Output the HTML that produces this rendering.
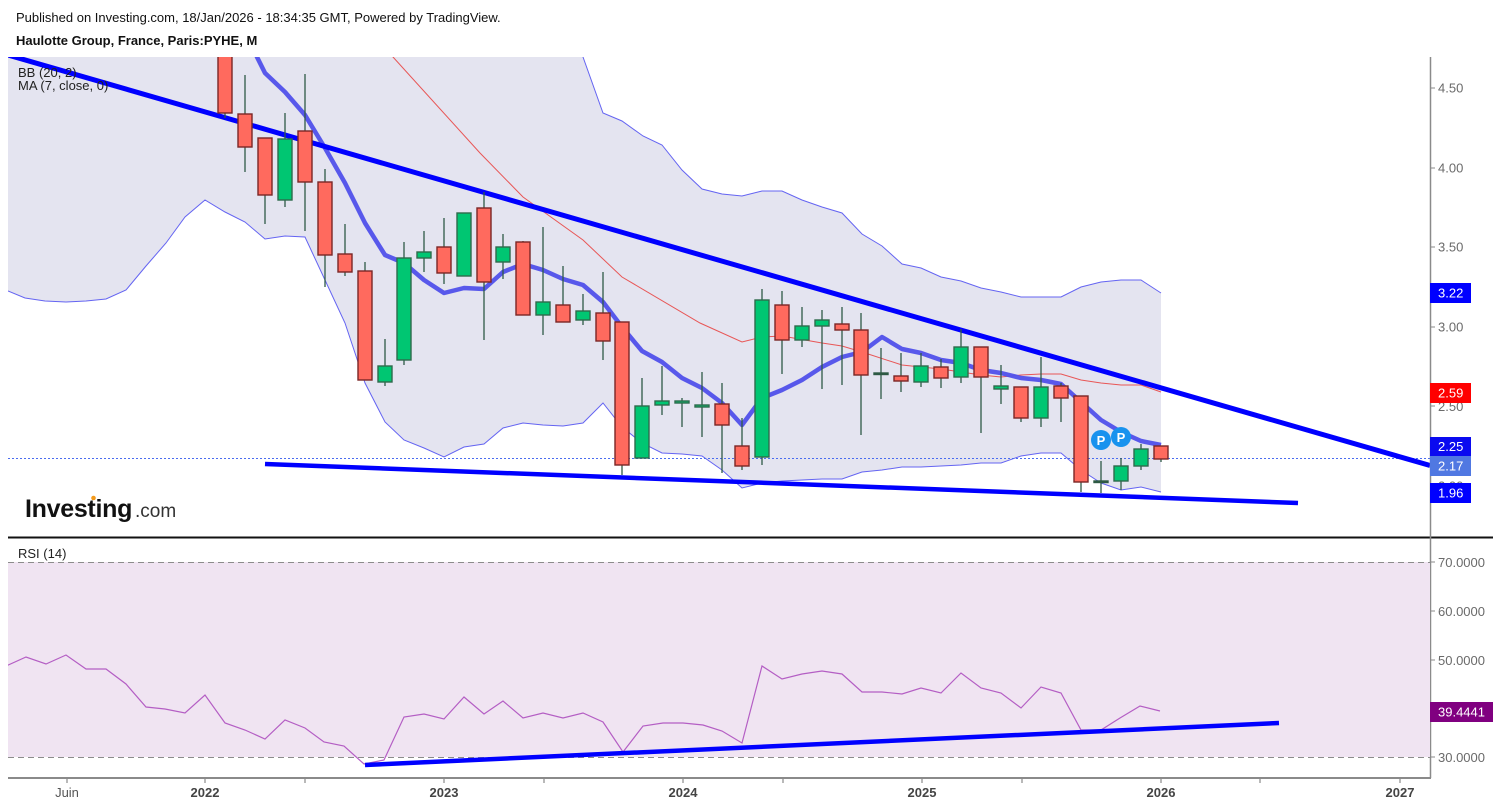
<!DOCTYPE html>
<html><head><meta charset="utf-8">
<style>
html,body{margin:0;padding:0;background:#fff;}
svg{display:block;font-family:"Liberation Sans",Arial,sans-serif;}
.w{stroke:#2f5a46;stroke-width:1.3}
.r{fill:#ff6a5e;stroke:#7a2626;stroke-width:1.4}
.g{fill:#00c672;stroke:#2e6a4c;stroke-width:1.4}
.d{fill:#2e5a44;stroke:#2e5a44;stroke-width:1.4}
.pl{font-size:13px;fill:#6a6a6a}
.bl{font-size:13px;fill:#fff}
</style></head>
<body>
<svg width="1500" height="807" viewBox="0 0 1500 807" xmlns="http://www.w3.org/2000/svg">
<defs>
<clipPath id="cm"><rect x="8" y="57" width="1422" height="480"/></clipPath>
<clipPath id="cr"><rect x="8" y="540" width="1422" height="237"/></clipPath>
</defs>

<!-- header -->
<text x="16" y="22" font-size="13" fill="#111">Published on Investing.com, 18/Jan/2026 - 18:34:35 GMT, Powered by TradingView.</text>
<text x="16" y="45" font-size="13" font-weight="bold" fill="#111">Haulotte Group, France, Paris:PYHE, M</text>

<g clip-path="url(#cm)">
<!-- BB fill -->
<polygon fill="#e4e4f0" points="8,-100 543,-100 543,-60 563,0 583,57 603,113 622,121 643,136 662,145 682,170 702,189 722,194 742,196 762,191 782,191 802,200 822,207 842,213 862,234 882,246 902,264 921,268 941,277 961,281 981,288 1001,292 1021,297 1041,297 1061,297 1081,287 1101,282 1121,280 1141,280 1161,293 1161,492 1141,487 1121,490 1101,483 1081,470 1061,453 1041,453 1021,456 1001,463 981,463 961,465 941,466 921,467 902,467 882,470 862,472 842,479 822,479 802,480 782,481 762,483 742,488 722,470 702,456 682,454 662,453 642,443 622,427 603,403 583,423 563,426 543,425 523,423 503,428 484,444 464,447 444,457 424,448 404,440 385,422 365,383 345,323 325,280 305,237 285,236 265,239 245,222 225,212 205,200 185,217 166,243 146,266 126,290 106,299 86,301 66,302 45,301 25,298 8,291"/>
<!-- BB lines -->
<polyline fill="none" stroke="#6464f2" stroke-width="1" points="543,-60 563,0 583,57 603,113 622,121 643,136 662,145 682,170 702,189 722,194 742,196 762,191 782,191 802,200 822,207 842,213 862,234 882,246 902,264 921,268 941,277 961,281 981,288 1001,292 1021,297 1041,297 1061,297 1081,287 1101,282 1121,280 1141,280 1161,293"/>
<polyline fill="none" stroke="#6464f2" stroke-width="1" points="8,291 25,298 45,301 66,302 86,301 106,299 126,290 146,266 166,243 185,217 205,200 225,212 245,222 265,239 285,236 305,237 325,280 345,323 365,383 385,422 404,440 424,448 444,457 464,447 484,444 503,428 523,423 543,425 563,426 583,423 603,403 622,427 642,443 662,453 682,454 702,456 722,470 742,488 762,483 782,481 802,480 822,479 842,479 862,472 882,470 902,467 921,467 941,466 961,465 981,463 1001,463 1021,456 1041,453 1061,453 1081,470 1101,483 1121,490 1141,487 1161,492"/>
<!-- dotted current price -->
<line x1="8" y1="458.5" x2="1430" y2="458.5" stroke="#4a6cf0" stroke-width="1" stroke-dasharray="2,2"/>
<!-- red middle -->
<polyline fill="none" stroke="#e85656" stroke-width="1" points="366,27 393,57 480,153 523,197 583,240 622,277 700,323 742,342 762,337 782,336 822,343 842,346 862,352 902,365 921,367 941,369 961,372 981,375 1001,377 1021,375 1041,374 1061,374 1081,380 1101,383 1121,385 1141,385 1161,392"/>
<!-- MA7 -->
<polyline fill="none" stroke="#5050ea" stroke-width="4.5" stroke-linejoin="round" opacity="0.95" points="245,30 257,57 265,73 285,92 305,115 325,148 345,183 365,223 385,255 404,263 424,280 444,293 464,288 484,289 503,272 523,264 543,270 563,279 583,285 603,302 622,327 642,351 662,362 682,378 702,388 722,403 742,425 762,398 782,390 802,380 822,367 842,357 862,352 882,337 902,349 921,353 941,360 961,363 981,370 1001,373 1021,378 1041,380 1061,384 1081,402 1101,420 1121,432 1141,441 1161,445"/>
<!-- trendlines -->
<line x1="8" y1="55" x2="1430" y2="465.5" stroke="#0000ff" stroke-width="5"/>
<line x1="265" y1="464" x2="1298" y2="503" stroke="#0000ff" stroke-width="4.5"/>

<!-- candles -->
<line class="w" x1="225" y1="50" x2="225" y2="118"/><rect class="r" x="218" y="50" width="14" height="63"/>
<line class="w" x1="245" y1="75" x2="245" y2="172"/><rect class="r" x="238" y="114" width="14" height="33"/>
<line class="w" x1="265" y1="138" x2="265" y2="224"/><rect class="r" x="258" y="138" width="14" height="57"/>
<line class="w" x1="285" y1="113" x2="285" y2="207"/><rect class="g" x="278" y="139" width="14" height="61"/>
<line class="w" x1="305" y1="74" x2="305" y2="231"/><rect class="r" x="298" y="131" width="14" height="51"/>
<line class="w" x1="325" y1="169" x2="325" y2="287"/><rect class="r" x="318" y="182" width="14" height="73"/>
<line class="w" x1="345" y1="224" x2="345" y2="276"/><rect class="r" x="338" y="254" width="14" height="18"/>
<line class="w" x1="365" y1="262" x2="365" y2="380"/><rect class="r" x="358" y="271" width="14" height="109"/>
<line class="w" x1="385" y1="339" x2="385" y2="386"/><rect class="g" x="378" y="366" width="14" height="16"/>
<line class="w" x1="404" y1="242" x2="404" y2="365"/><rect class="g" x="397" y="258" width="14" height="102"/>
<line class="w" x1="424" y1="231" x2="424" y2="272"/><rect class="g" x="417" y="252" width="14" height="6"/>
<line class="w" x1="444" y1="218" x2="444" y2="284"/><rect class="r" x="437" y="247" width="14" height="26"/>
<line class="w" x1="464" y1="213" x2="464" y2="276"/><rect class="g" x="457" y="213" width="14" height="63"/>
<line class="w" x1="484" y1="192" x2="484" y2="340"/><rect class="r" x="477" y="208" width="14" height="74"/>
<line class="w" x1="503" y1="234" x2="503" y2="279"/><rect class="g" x="496" y="247" width="14" height="15"/>
<line class="w" x1="523" y1="241" x2="523" y2="315"/><rect class="r" x="516" y="242" width="14" height="73"/>
<line class="w" x1="543" y1="227" x2="543" y2="335"/><rect class="g" x="536" y="302" width="14" height="13"/>
<line class="w" x1="563" y1="266" x2="563" y2="322"/><rect class="r" x="556" y="305" width="14" height="17"/>
<line class="w" x1="583" y1="294" x2="583" y2="325"/><rect class="g" x="576" y="311" width="14" height="9"/>
<line class="w" x1="603" y1="272" x2="603" y2="360"/><rect class="r" x="596" y="313" width="14" height="28"/>
<line class="w" x1="622" y1="322" x2="622" y2="475"/><rect class="r" x="615" y="322" width="14" height="143"/>
<line class="w" x1="642" y1="378" x2="642" y2="458"/><rect class="g" x="635" y="406" width="14" height="52"/>
<line class="w" x1="662" y1="366" x2="662" y2="415"/><rect class="g" x="655" y="401" width="14" height="4"/>
<line class="w" x1="682" y1="398" x2="682" y2="427"/><rect class="g" x="675" y="401" width="14" height="2"/>
<line class="w" x1="702" y1="372" x2="702" y2="437"/><rect class="g" x="695" y="405" width="14" height="2"/>
<line class="w" x1="722" y1="383" x2="722" y2="473"/><rect class="r" x="715" y="404" width="14" height="21"/>
<line class="w" x1="742" y1="418" x2="742" y2="470"/><rect class="r" x="735" y="446" width="14" height="20"/>
<line class="w" x1="762" y1="289" x2="762" y2="465"/><rect class="g" x="755" y="300" width="14" height="157"/>
<line class="w" x1="782" y1="291" x2="782" y2="374"/><rect class="r" x="775" y="305" width="14" height="35"/>
<line class="w" x1="802" y1="307" x2="802" y2="347"/><rect class="g" x="795" y="326" width="14" height="14"/>
<line class="w" x1="822" y1="310" x2="822" y2="389"/><rect class="g" x="815" y="320" width="14" height="6"/>
<line class="w" x1="842" y1="307" x2="842" y2="385"/><rect class="r" x="835" y="324" width="14" height="6"/>
<line class="w" x1="861" y1="313" x2="861" y2="435"/><rect class="r" x="854" y="330" width="14" height="45"/>
<line class="w" x1="881" y1="348" x2="881" y2="399"/><rect class="d" x="874" y="373" width="14" height="1.5"/>
<line class="w" x1="901" y1="353" x2="901" y2="392"/><rect class="r" x="894" y="376" width="14" height="5"/>
<line class="w" x1="921" y1="353" x2="921" y2="387"/><rect class="g" x="914" y="366" width="14" height="16"/>
<line class="w" x1="941" y1="359" x2="941" y2="388"/><rect class="r" x="934" y="367" width="14" height="11"/>
<line class="w" x1="961" y1="329" x2="961" y2="383"/><rect class="g" x="954" y="347" width="14" height="30"/>
<line class="w" x1="981" y1="347" x2="981" y2="433"/><rect class="r" x="974" y="347" width="14" height="30"/>
<line class="w" x1="1001" y1="365" x2="1001" y2="404"/><rect class="g" x="994" y="386" width="14" height="3"/>
<line class="w" x1="1021" y1="387" x2="1021" y2="422"/><rect class="r" x="1014" y="387" width="14" height="31"/>
<line class="w" x1="1041" y1="357" x2="1041" y2="427"/><rect class="g" x="1034" y="387" width="14" height="31"/>
<line class="w" x1="1061" y1="383" x2="1061" y2="422"/><rect class="r" x="1054" y="386" width="14" height="12"/>
<line class="w" x1="1081" y1="396" x2="1081" y2="492"/><rect class="r" x="1074" y="396" width="14" height="86"/>
<line class="w" x1="1101" y1="461" x2="1101" y2="493"/><rect class="d" x="1094" y="481" width="14" height="1.5"/>
<line class="w" x1="1121" y1="458" x2="1121" y2="490"/><rect class="g" x="1114" y="466" width="14" height="15"/>
<line class="w" x1="1141" y1="444" x2="1141" y2="470"/><rect class="g" x="1134" y="449" width="14" height="17"/>
<line class="w" x1="1161" y1="446" x2="1161" y2="462"/><rect class="r" x="1154" y="446" width="14" height="13"/>

<!-- P markers -->
<circle cx="1101" cy="440" r="10" fill="#1892ee"/>
<text x="1101" y="445" font-size="13" font-weight="bold" fill="#fff" text-anchor="middle">P</text>
<circle cx="1121" cy="437" r="10" fill="#1892ee"/>
<text x="1121" y="442" font-size="13" font-weight="bold" fill="#fff" text-anchor="middle">P</text>
</g>

<!-- legend -->
<text x="18" y="77" font-size="13" fill="#222">BB (20, 2)</text>
<text x="18" y="90" font-size="13" fill="#222">MA (7, close, 0)</text>

<!-- Investing logo -->
<text x="25" y="517" font-size="25" font-weight="bold" fill="#111" letter-spacing="-0.3">Investing</text>
<circle cx="93.5" cy="498" r="2.3" fill="#f39a1c"/>
<text x="135" y="517" font-size="19" fill="#333">.com</text>

<!-- separator -->
<line x1="8" y1="537.5" x2="1493" y2="537.5" stroke="#111" stroke-width="2"/>

<!-- price axis -->
<line x1="1430.5" y1="57" x2="1430.5" y2="778" stroke="#8a8a8a" stroke-width="1.5"/>
<g stroke="#8a8a8a" stroke-width="1">
<line x1="1430" y1="88" x2="1435" y2="88"/>
<line x1="1430" y1="168" x2="1435" y2="168"/>
<line x1="1430" y1="247" x2="1435" y2="247"/>
<line x1="1430" y1="327" x2="1435" y2="327"/>
<line x1="1430" y1="406" x2="1435" y2="406"/>
<line x1="1430" y1="486" x2="1435" y2="486"/>
</g>
<text class="pl" x="1438" y="92.5">4.50</text>
<text class="pl" x="1438" y="172.5">4.00</text>
<text class="pl" x="1438" y="251.5">3.50</text>
<text class="pl" x="1438" y="331.5">3.00</text>
<text class="pl" x="1438" y="411">2.50</text>
<text class="pl" x="1438" y="490.5">2.00</text>

<rect x="1430" y="283" width="41" height="20" fill="#0000ff"/>
<text class="bl" x="1438" y="297.5">3.22</text>
<rect x="1430" y="383" width="41" height="20" fill="#ff0000"/>
<text class="bl" x="1438" y="397.5">2.59</text>
<rect x="1430" y="437" width="41" height="19" fill="#0a0af0"/>
<text class="bl" x="1438" y="451">2.25</text>
<rect x="1430" y="456" width="41" height="20" fill="#5078e2"/>
<text class="bl" x="1438" y="470.5">2.17</text>
<rect x="1430" y="483" width="41" height="20" fill="#0000ff"/>
<text class="bl" x="1438" y="497.5">1.96</text>

<!-- RSI panel -->
<text x="18" y="558" font-size="13" fill="#222">RSI (14)</text>
<rect x="8" y="562" width="1422" height="195" fill="#f0e4f2"/>
<line x1="8" y1="562.5" x2="1430" y2="562.5" stroke="#8c8c8c" stroke-width="1" stroke-dasharray="6,4"/>
<line x1="8" y1="757.5" x2="1430" y2="757.5" stroke="#8c8c8c" stroke-width="1" stroke-dasharray="6,4"/>
<g clip-path="url(#cr)">
<polyline fill="none" stroke="#b45ec4" stroke-width="1.2" points="6,666 26,657 46,664 66,655 86,669 106,669 126,684 146,707 165,709 185,713 205,695 225,723 245,730 265,739 285,720 305,728 324,742 344,746 364,764 384,760 404,717 424,714 444,719 464,697 484,714 503,701 523,718 543,713 563,718 583,713 603,722 623,752 643,726 663,723 683,723 703,725 722,731 742,743 762,666 782,679 802,674 822,671 842,674 862,692 882,692 902,694 921,688 941,693 961,673 981,688 1001,693 1021,708 1041,687 1061,693 1081,730 1101,730 1120,718 1140,706 1160,711"/>
<line x1="365" y1="765" x2="1279" y2="723" stroke="#0000ff" stroke-width="4.5"/>
</g>
<g stroke="#8a8a8a" stroke-width="1">
<line x1="1430" y1="562" x2="1435" y2="562"/>
<line x1="1430" y1="611" x2="1435" y2="611"/>
<line x1="1430" y1="660" x2="1435" y2="660"/>
<line x1="1430" y1="709" x2="1435" y2="709"/>
<line x1="1430" y1="757" x2="1435" y2="757"/>
</g>
<text class="pl" x="1438" y="567">70.0000</text>
<text class="pl" x="1438" y="616">60.0000</text>
<text class="pl" x="1438" y="665">50.0000</text>
<text class="pl" x="1438" y="762">30.0000</text>
<rect x="1430" y="702" width="63" height="20" fill="#800080"/>
<text class="bl" x="1438" y="716.5">39.4441</text>

<!-- time axis -->
<line x1="8" y1="778" x2="1431" y2="778" stroke="#8a8a8a" stroke-width="2"/>
<g stroke="#8a8a8a" stroke-width="1.2">
<line x1="67" y1="778" x2="67" y2="783"/>
<line x1="205" y1="778" x2="205" y2="783"/>
<line x1="305" y1="778" x2="305" y2="783"/>
<line x1="444" y1="778" x2="444" y2="783"/>
<line x1="544" y1="778" x2="544" y2="783"/>
<line x1="683" y1="778" x2="683" y2="783"/>
<line x1="783" y1="778" x2="783" y2="783"/>
<line x1="922" y1="778" x2="922" y2="783"/>
<line x1="1022" y1="778" x2="1022" y2="783"/>
<line x1="1161" y1="778" x2="1161" y2="783"/>
<line x1="1260" y1="778" x2="1260" y2="783"/>
<line x1="1400" y1="778" x2="1400" y2="783"/>
</g>
<g font-size="13" text-anchor="middle">
<text x="67" y="797" fill="#555">Juin</text>
<text x="205" y="797" fill="#444" font-weight="bold">2022</text>
<text x="444" y="797" fill="#444" font-weight="bold">2023</text>
<text x="683" y="797" fill="#444" font-weight="bold">2024</text>
<text x="922" y="797" fill="#444" font-weight="bold">2025</text>
<text x="1161" y="797" fill="#444" font-weight="bold">2026</text>
<text x="1400" y="797" fill="#444" font-weight="bold">2027</text>
</g>
</svg>
</body></html>
